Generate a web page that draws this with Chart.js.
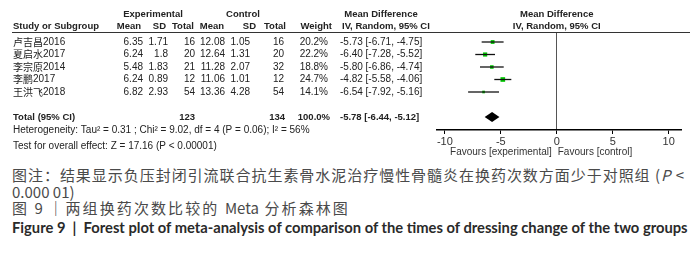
<!DOCTYPE html>
<html>
<head>
<meta charset="utf-8">
<script src="https://cdn.jsdelivr.net/npm/chart.js@4.4.0/dist/chart.umd.min.js"></script>
<style>
  body { margin: 0; background: #fff; width: 700px; height: 257px; overflow: hidden; position: relative; }
  #wrap { position: absolute; left: 0; top: 0; width: 700px; height: 160px; }
  .cap { position: absolute; left: 12px; white-space: nowrap; color: #4a4a4a; }
  .zh { font-family: "Noto Sans CJK SC", sans-serif; font-size: 15px; line-height: 17px; }
  .zh .lat { letter-spacing: 0; }
  .en { font-family: Lato, "Open Sans", sans-serif; font-size: 13.5px; line-height: 17px; font-weight: bold; color: #2a2a2a; }
</style>
</head>
<body>
<div id="wrap"><canvas id="forest"></canvas></div>
<div class="cap zh" id="c1" style="top:166px">图注：结果显示负压封闭引流联合抗生素骨水泥治疗慢性骨髓炎在换药次数方面少于对照组 (<i>P</i> &lt;</div>
<div class="cap zh" id="c2" style="top:183px">0.000 01)</div>
<div class="cap zh" id="c3" style="top:199px">图 <span class="lat">9</span> ｜两组换药次数比较的 <span class="lat">Meta</span> 分析森林图</div>
<div class="cap en" id="c4" style="top:219px">Figure 9 &nbsp;|&nbsp; Forest plot of meta-analysis of comparison of the times of dressing change of the two groups</div>

<script>
// FOREST PLOT - studies, table columns and mean differences

const studies = ['卢吉昌2016', '夏启水2017', '李宗原2014', '李鹏2017', '王洪飞2018'];
const expMean = ['6.35', '6.24', '5.48', '6.24', '6.82'];
const expSD = ['1.71', '1.8', '1.83', '0.89', '2.93'];
const expTotal = ['16', '20', '21', '12', '54'];
const ctlMean = ['12.08', '12.64', '11.28', '11.06', '13.36'];
const ctlSD = ['1.05', '1.31', '2.07', '1.01', '4.28'];
const ctlTotal = ['16', '20', '32', '12', '54'];
const weights = [20.2, 22.2, 18.8, 24.7, 14.1];
const md = [-5.73, -6.40, -5.80, -4.82, -6.54];
const ciLow = [-6.71, -7.28, -6.86, -5.58, -7.92];
const ciHigh = [-4.75, -5.52, -4.74, -4.06, -5.16];

const total = { md: -5.78, low: -6.44, high: -5.12, expN: '123', ctlN: '134', weight: '100.0%' };
const totalRow = 6; // row index of the pooled estimate
const xTicks = [-10, -5, 0, 5, 10];

const green = '#00c800';
const ink = '#222';
const arial = '"Liberation Sans", Arial, sans-serif';
const cjk = '"Noto Sans CJK SC", sans-serif';


// one line dataset per confidence interval
const ciSets = studies.map((s, i) => ({
    type: 'scatter',
    showLine: true,
    data: [{ x: ciLow[i], y: i }, { x: ciHigh[i], y: i }],
    borderColor: '#111',
    borderWidth: 1.3,
    pointRadius: 0
}));

const squareSet = {
    type: 'scatter',
    data: md.map((v, i) => ({ x: v, y: i })),
    pointStyle: 'rect',
    pointRadius: weights.map(w => w / 7.5),
    backgroundColor: green,
    borderWidth: 0
};


// table text + pooled diamond, positioned with the chart's own scales
const tablePlugin = {
    id: 'forestTable',
    afterDraw(chart) {
        const ctx = chart.ctx;
        const xs = chart.scales.x;
        const ys = chart.scales.y;

        function txt(s, x, y, align, bold, font) {
            ctx.font = (bold ? 'bold 9.5px ' : '10px ') + (font || arial);
            ctx.textAlign = align;
            ctx.fillText(s, x, y);
        }

        ctx.save();
        ctx.fillStyle = ink;
        ctx.textBaseline = 'middle';

        // headers
        txt('Experimental', 153, 14, 'center', true);
        txt('Control', 243, 14, 'center', true);
        txt('Mean Difference', 381, 14, 'center', true);
        txt('Mean Difference', xs.getPixelForValue(0), 14, 'center', true);
        txt('Study or Subgroup', 13, 26, 'left', true);
        txt('Mean', 141, 26, 'right', true);
        txt('SD', 166, 26, 'right', true);
        txt('Total', 194, 26, 'right', true);
        txt('Mean', 224, 26, 'right', true);
        txt('SD', 256, 26, 'right', true);
        txt('Total', 286, 26, 'right', true);
        txt('Weight', 332, 26, 'right', true);
        txt('IV, Random, 95% CI', 342, 26, 'left', true);
        txt('IV, Random, 95% CI', xs.getPixelForValue(0), 26, 'center', true);

        // rule under the header
        ctx.strokeStyle = '#333';
        ctx.lineWidth = 1;
        ctx.beginPath();
        ctx.moveTo(12, 32.5);
        ctx.lineTo(chart.chartArea.right + 9, 32.5);
        ctx.stroke();

        // study rows
        studies.forEach((s, i) => {
            const y = ys.getPixelForValue(i);
            ctx.font = '10px ' + cjk;
            ctx.textAlign = 'left';
            const name = s.replace(/\d+$/, '');
            ctx.fillText(name, 13, y);
            const w = ctx.measureText(name).width;
            txt(s.slice(name.length), 13 + w, y, 'left');
            txt(expMean[i], 143, y, 'right');
            txt(expSD[i], 168, y, 'right');
            txt(expTotal[i], 195, y, 'right');
            txt(ctlMean[i], 225, y, 'right');
            txt(ctlSD[i], 250, y, 'right');
            txt(ctlTotal[i], 284, y, 'right');
            txt(weights[i].toFixed(1) + '%', 328, y, 'right');
            txt(md[i].toFixed(2) + ' [' + ciLow[i].toFixed(2) + ', ' + ciHigh[i].toFixed(2) + ']', 340, y, 'left');
        });

        // total row
        const yt = ys.getPixelForValue(totalRow);
        txt('Total (95% CI)', 13, yt, 'left', true);
        txt(total.expN, 195, yt, 'right', true);
        txt(total.ctlN, 285, yt, 'right', true);
        txt(total.weight, 330, yt, 'right', true);
        txt(total.md.toFixed(2) + ' [' + total.low.toFixed(2) + ', ' + total.high.toFixed(2) + ']', 340, yt, 'left', true);
        txt('Heterogeneity: Tau\u00b2 = 0.31 ; Chi\u00b2 = 9.02, df = 4 (P = 0.06); I\u00b2 = 56%', 13, 130, 'left');
        txt('Test for overall effect: Z = 17.16 (P < 0.00001)', 13, 146, 'left');

        // pooled diamond
        const cx = xs.getPixelForValue(total.md);
        ctx.fillStyle = '#000';
        ctx.beginPath();
        ctx.moveTo(xs.getPixelForValue(total.low), yt);
        ctx.lineTo(cx, yt - 5);
        ctx.lineTo(xs.getPixelForValue(total.high), yt);
        ctx.lineTo(cx, yt + 5);
        ctx.closePath();
        ctx.fill();

        // favours labels
        ctx.fillStyle = '#333';
        const x0 = xs.getPixelForValue(0);
        txt('Favours [experimental]', x0 - 5, 152, 'right');
        txt('Favours [control]', x0 + 1, 152, 'left');
        ctx.restore();
    }
};


const ctx = document.getElementById('forest').getContext('2d');

const forestChart = new Chart(ctx, {
    type: 'scatter',
    data: { datasets: [...ciSets, squareSet] },
    options: {
        responsive: true,
        maintainAspectRatio: false,
        animation: false,
        events: [],
        plugins: {
            legend: { display: false },
            tooltip: { enabled: false }
        },
        layout: {
            padding: { left: 437, right: 19, top: 32, bottom: 10 }
        },
        scales: {
            x: {
                type: 'linear',
                min: -10.7,
                max: 11.1,
                afterFit: (scale) => { scale.height = 20; },
                afterBuildTicks: (scale) => { scale.ticks = xTicks.map(v => ({ value: v })); },
                ticks: {
                    includeBounds: false,
                    padding: 1,
                    color: '#333',
                    font: { family: arial, size: 11 }
                },
                grid: {
                    drawOnChartArea: true,
                    color: (c) => (c.tick && c.tick.value === 0 ? '#555' : 'rgba(0,0,0,0)'),
                    tickColor: '#000',
                    tickLength: 4
                },
                border: { display: true, color: '#000', width: 1.5 }
            },
            y: {
                type: 'linear',
                display: false,
                reverse: true,
                min: -0.8,
                max: 7.04
            }
        }
    },
    plugins: [tablePlugin]
});


// stretch caption lines to the widths they have in the figure
function fitFont(id, target) {
    const el = document.getElementById(id);
    const w = el.getBoundingClientRect().width;
    const fs = parseFloat(getComputedStyle(el).fontSize);
    el.style.fontSize = (fs * target / w) + 'px';
}
function fitSpacing(id, target, count) {
    const el = document.getElementById(id);
    const w = el.getBoundingClientRect().width;
    el.style.letterSpacing = ((target - w) / (count || el.textContent.length)) + 'px';
}
fitSpacing('c1', 673);
fitSpacing('c3', 338, 20);
fitFont('c4', 676);

console.log('forest plot loaded');
</script>
</body>
</html>
